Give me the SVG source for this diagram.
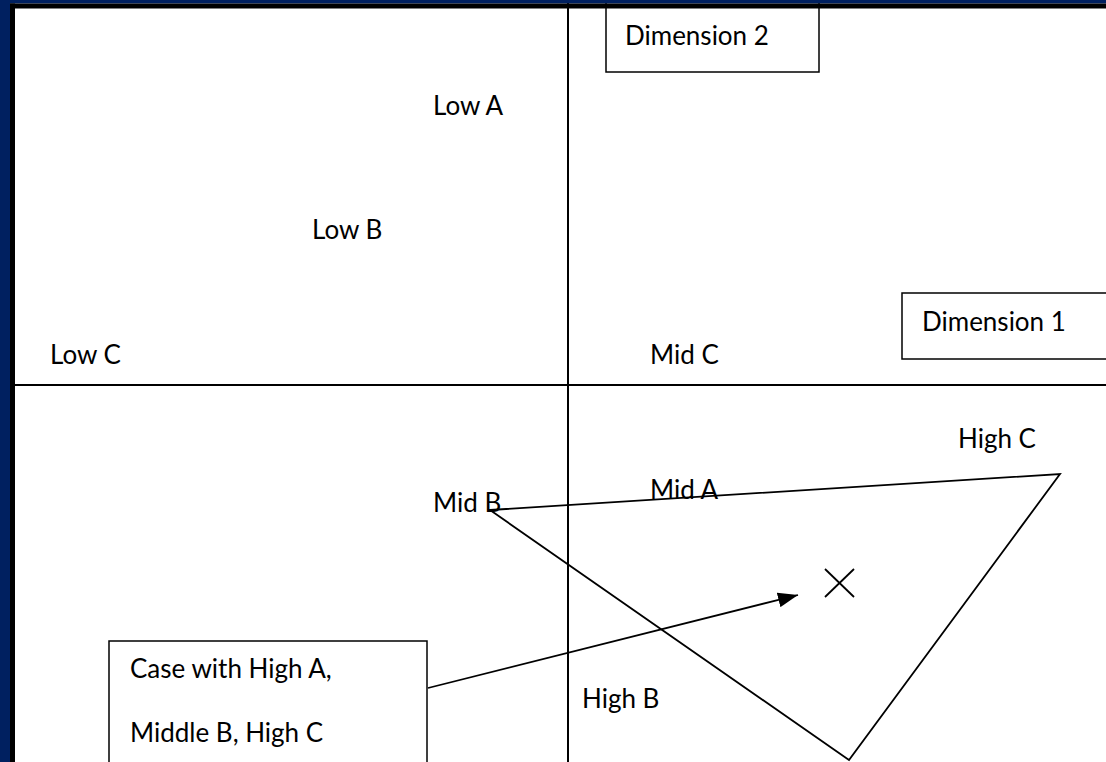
<svg xmlns="http://www.w3.org/2000/svg" width="1106" height="762" viewBox="0 0 1106 762">
<style>
text{font-family:Lato,"Liberation Sans",sans-serif;font-size:26px;fill:#000}
.box{fill:#fff;stroke:#000;stroke-width:1.5}
.ln{stroke:#000;stroke-width:1.8;fill:none}
.ax{stroke:#000;stroke-width:2;fill:none}
</style>
<defs>
<marker id="ah" viewBox="0 0 20 15" refX="20" refY="7.5" markerWidth="20" markerHeight="15" markerUnits="userSpaceOnUse" orient="auto">
<path d="M0,0 L20,7.5 L0,15 z" fill="#000"/>
</marker>
</defs>
<rect width="1106" height="762" fill="#fff"/>
<g id="axes">
<line class="ax" x1="568" y1="0" x2="568" y2="762"/>
<line class="ax" x1="15" y1="385" x2="1106" y2="385"/>
</g>
<g id="labels">
<text x="433" y="115">Low A</text>
<text x="312" y="239">Low B</text>
<text x="50" y="364">Low C</text>
<text x="650" y="364">Mid C</text>
<text x="958" y="448">High C</text>
<text x="650" y="499">Mid A</text>
<text x="433" y="512">Mid B</text>
<text x="582" y="708">High B</text>
</g>
<g id="connectors">
<polygon class="ln" points="490,510 1060,474 849,760"/>
<line class="ln" x1="428" y1="688" x2="798" y2="595" marker-end="url(#ah)"/>
</g>
<g id="case-point">
<line class="ln" x1="825" y1="569" x2="854" y2="597" stroke-width="1.5"/>
<line class="ln" x1="854" y1="569" x2="825" y2="597" stroke-width="1.5"/>
</g>
<g id="dimension2">
<rect class="box" x="606" y="-2" width="213" height="74"/>
<text x="625" y="45">Dimension 2</text>
</g>
<g id="dimension1">
<rect class="box" x="902" y="293" width="220" height="66"/>
<text x="922" y="331">Dimension 1</text>
</g>
<g id="case-box">
<rect class="box" x="109" y="641" width="318" height="130"/>
<text x="130" y="678">Case with High A,</text>
<text x="130" y="742">Middle B, High C</text>
</g>
<g id="frame">
<rect x="0" y="0" width="10" height="762" fill="#002060"/>
<rect x="0" y="0" width="1106" height="3.5" fill="#002060"/>
<rect x="10" y="3.5" width="5" height="758.5" fill="#000"/>
<rect x="10" y="3.5" width="1096" height="5" fill="#000"/>
</g>
</svg>
